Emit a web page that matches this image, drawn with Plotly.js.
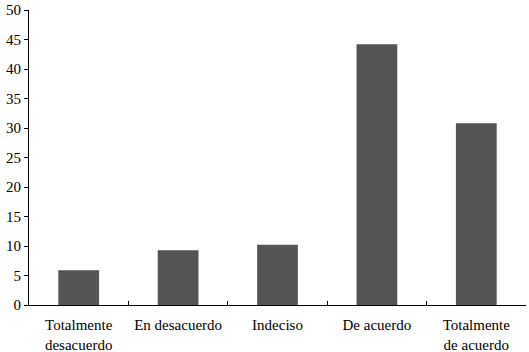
<!DOCTYPE html>
<html>
<head>
<meta charset="utf-8">
<script src="https://cdn.plot.ly/plotly-3.0.1.min.js"></script>
<style>html,body{margin:0;padding:0;background:#fff;}#chart{width:529px;height:352px;}</style>
</head>
<body>
<div id="chart"></div>
<script>
var categories = ["Totalmente<br>desacuerdo", "En desacuerdo", "Indeciso", "De acuerdo", "Totalmente<br>de acuerdo"];
var values = [5.9, 9.3, 10.2, 44.2, 30.8];
var yTicks = [0, 5, 10, 15, 20, 25, 30, 35, 40, 45, 50];

var FONT = "'Liberation Serif', 'DejaVu Serif', serif";

var trace = {
  type: "bar",
  x: categories,
  y: values,
  width: 0.41,
  marker: {color: "#545454", line: {width: 0}},
  hoverinfo: "skip"
};

var layout = {
  width: 529,
  height: 352,
  margin: {l: 29, r: 3, t: 10, b: 47},
  paper_bgcolor: "#fff",
  plot_bgcolor: "#fff",
  showlegend: false,
  font: {family: FONT, size: 14, color: "#000"},
  xaxis: {
    type: "category",
    showline: true,
    linecolor: "#000",
    linewidth: 1,
    ticks: "inside",
    tickson: "boundaries",
    ticklen: 4,
    tickcolor: "#000",
    showgrid: false,
    zeroline: false,
    ticklabelstandoff: 6,
    tickfont: {family: FONT, size: 15, color: "#000"}
  },
  yaxis: {
    range: [0, 50],
    tickvals: yTicks,
    ticktext: yTicks.map(String),
    showline: true,
    linecolor: "#000",
    linewidth: 1,
    ticks: "outside",
    ticklen: 4,
    tickcolor: "#000",
    showgrid: false,
    zeroline: false,
    tickfont: {family: FONT, size: 15, color: "#000"}
  }
};

Plotly.newPlot("chart", [trace], layout, {displayModeBar: false, staticPlot: true});
</script>
</body>
</html>
